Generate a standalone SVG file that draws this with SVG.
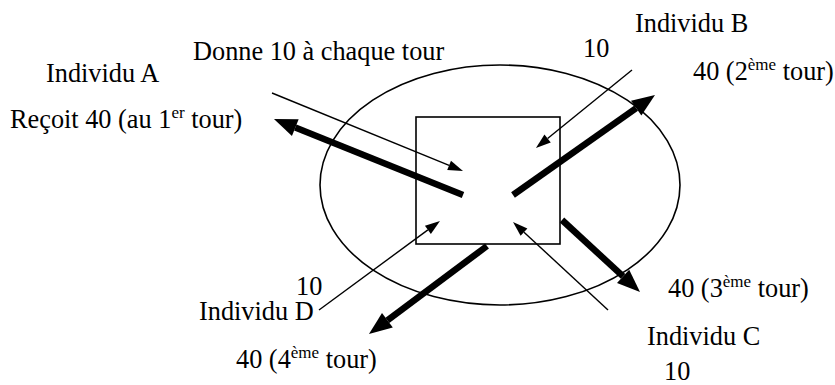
<svg xmlns="http://www.w3.org/2000/svg" width="835" height="385" viewBox="0 0 835 385">
<style>
text{font-family:"Liberation Serif","Times New Roman",serif;font-size:26.3px;fill:#000}
.sup{font-size:17px}
.thin{stroke:#000;stroke-width:1.4;fill:none;marker-end:url(#ht)}
.thick{stroke:#000;stroke-width:6.5;fill:none;marker-end:url(#hT)}
.shape{stroke:#000;stroke-width:1.6;fill:none}
</style>
<defs>
<marker id="ht" markerUnits="userSpaceOnUse" markerWidth="15" markerHeight="10" refX="0" refY="5" orient="auto" overflow="visible"><path d="M0,0 L15,5 L0,10 z" fill="#000"/></marker>
<marker id="hT" markerUnits="userSpaceOnUse" markerWidth="23" markerHeight="18" refX="0" refY="9" orient="auto" overflow="visible"><path d="M0,0 L23,9 L0,18 z" fill="#000"/></marker>
</defs>
<g id="community">
<ellipse class="shape" cx="500" cy="185" rx="180" ry="120"/>
<rect class="shape" x="416" y="117" width="144" height="127"/>
</g>
<g id="connectors">
<line class="thin" x1="272" y1="93" x2="449.1" y2="165.3"/>
<line class="thick" x1="463" y1="195" x2="295.3" y2="127.6"/>
<line class="thin" x1="632" y1="70" x2="547.6" y2="138.5"/>
<line class="thick" x1="513" y1="195" x2="636.2" y2="108.2"/>
<line class="thick" x1="562" y1="220" x2="623.1" y2="276.4"/>
<line class="thin" x1="608" y1="310" x2="524" y2="232.2"/>
<line class="thin" x1="319" y1="310" x2="427.9" y2="229.9"/>
<line class="thick" x1="487" y1="246" x2="387.4" y2="320.3"/>
</g>
<g id="individu-a">
<text x="46" y="82">Individu A</text>
<text x="10" y="128">Reçoit 40 (au 1<tspan class="sup" dy="-10">er</tspan><tspan dy="10"> tour)</tspan></text>
<text x="193" y="60">Donne 10 à chaque tour</text>
</g>
<g id="individu-b">
<text x="635" y="32">Individu B</text>
<text x="583" y="57">10</text>
<text x="693" y="80">40 (2<tspan class="sup" dy="-10">ème</tspan><tspan dy="10"> tour)</tspan></text>
</g>
<g id="individu-c">
<text x="668" y="297">40 (3<tspan class="sup" dy="-10">ème</tspan><tspan dy="10"> tour)</tspan></text>
<text x="647" y="345">Individu C</text>
<text x="664" y="380">10</text>
</g>
<g id="individu-d">
<text x="296" y="295">10</text>
<text x="199" y="320">Individu D</text>
<text x="236" y="368">40 (4<tspan class="sup" dy="-10">ème</tspan><tspan dy="10"> tour)</tspan></text>
</g>
</svg>
